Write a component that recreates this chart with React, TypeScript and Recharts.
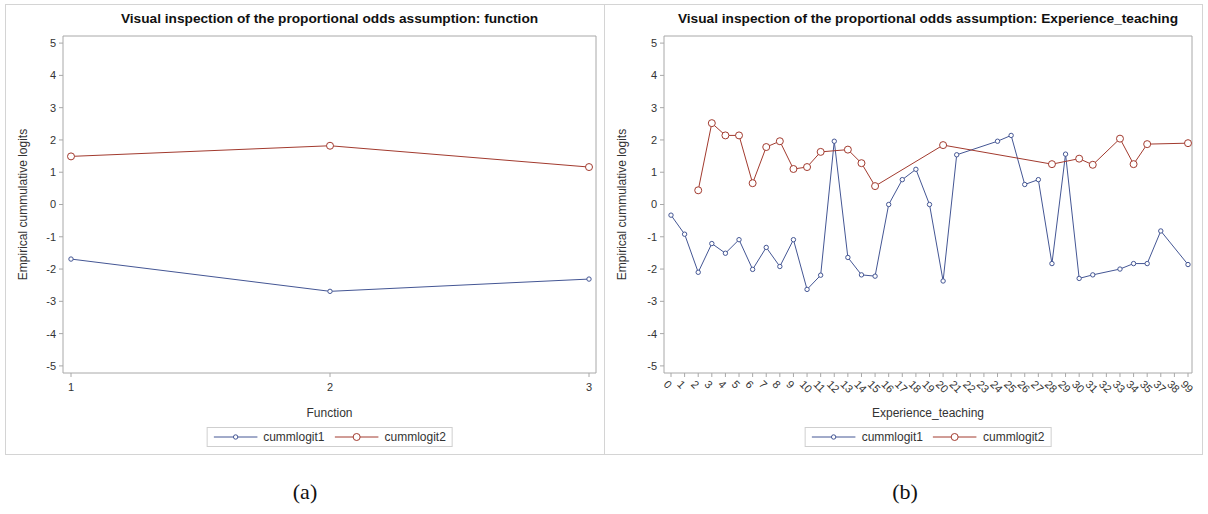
import { LineChart, Line, XAxis, YAxis, CartesianGrid } from "recharts";

// panel (a): Function
const fnCats = [1, 2, 3];
const fnLogit1 = [-1.69, -2.69, -2.31];
const fnLogit2 = [1.49, 1.82, 1.16];

// panel (b): Experience_teaching
const expCats = [
  "0", "1", "2", "3", "4", "5", "6", "7", "8", "9", "10", "11", "12", "13", "14", "15", "16", "17", "18", "19",
  "20", "21", "22", "23", "24", "25", "26", "27", "28", "29", "30", "31", "32", "33", "34", "35", "37", "38", "99",
];
const expLogit1 = [
  -0.33, -0.92, -2.1, -1.21, -1.51, -1.09, -2.01, -1.33, -1.92, -1.09, -2.63, -2.19, 1.96, -1.64, -2.18, -2.22, 0, 0.77, 1.09, 0,
  -2.37, 1.54, null, null, 1.96, 2.14, 0.62, 0.77, -1.83, 1.56, -2.29, -2.18, null, -2.0, -1.83, -1.83, -0.82, null, -1.86,
];
const expLogit2 = [
  null, null, 0.44, 2.52, 2.14, 2.14, 0.66, 1.78, 1.96, 1.1, 1.16, 1.63, null, 1.7, 1.28, 0.57, null, null, null, null,
  1.84, null, null, null, null, null, null, null, 1.25, null, 1.42, 1.23, null, 2.04, 1.25, 1.87, null, null, 1.9,
];

const yTicks = [-5, -4, -3, -2, -1, 0, 1, 2, 3, 4, 5];

const BLUE = "#445694";
const RED = "#A23A2E";
const AXIS = "#a8a8a8";
const TXT = "#333";
const FONT = "'Liberation Sans', Arial, sans-serif";

const fnData = fnCats.map((x, i) => ({ x, logit1: fnLogit1[i], logit2: fnLogit2[i] }));
const expData = expCats.map((label, i) => ({ label, logit1: expLogit1[i], logit2: expLogit2[i] }));

function SlantTick({ x, y, payload }: any) {
  const tx = x - 8;
  const ty = y + 6;
  return (
    <text x={tx} y={ty} transform={`rotate(45 ${tx} ${ty})`} fontSize={11} fill={TXT} fontFamily={FONT}>
      {payload.value}
    </text>
  );
}

function LegendBox({ center }: { center: number }) {
  const item = (color: string, r: number, name: string) => (
    <div style={{ display: "flex", alignItems: "center" }}>
      <svg width={44} height={12} style={{ marginRight: 6 }}>
        <line x1={0} y1={6} x2={44} y2={6} stroke={color} strokeWidth={1} />
        <circle cx={22} cy={6} r={r} stroke={color} fill="#fff" strokeWidth={1} />
      </svg>
      <span>{name}</span>
    </div>
  );
  return (
    <div
      style={{
        position: "absolute",
        left: center,
        top: 427,
        transform: "translateX(-50%)",
        height: 18,
        border: "1px solid #cfcfcf",
        display: "flex",
        alignItems: "center",
        gap: 10,
        padding: "0 6px",
        fontSize: 12,
        color: TXT,
        whiteSpace: "nowrap",
      }}
    >
      {item(BLUE, 2.2, "cummlogit1")}
      {item(RED, 3.5, "cummlogit2")}
    </div>
  );
}

function Panel(props: {
  left: number;
  title: string;
  data: any[];
  xKey: string;
  xLabel: string;
  numeric: boolean;
  yWidth: number;
  right: number;
}) {
  const { left, title, data, xKey, xLabel, numeric, yWidth, right } = props;
  const W = 598;
  const H = 450;
  const plotCenter = left + yWidth + (W - yWidth - right) / 2;
  return (
    <>
      <div
        style={{
          position: "absolute",
          left: plotCenter,
          top: 11,
          transform: "translateX(-50%)",
          fontWeight: "bold",
          fontSize: 13.7,
          color: "#111",
          whiteSpace: "nowrap",
        }}
      >
        {title}
      </div>
      <div style={{ position: "absolute", left, top: 5, width: W, height: H }}>
        <LineChart width={W} height={H} data={data} margin={{ top: 31, right, bottom: 0, left: 0 }}>
          <CartesianGrid
            stroke={AXIS}
            strokeWidth={1}
            horizontalCoordinatesGenerator={({ offset }: any) => [offset.top]}
            verticalCoordinatesGenerator={({ offset }: any) => [offset.left + offset.width]}
          />
          {numeric ? (
            <XAxis
              dataKey={xKey}
              type="number"
              domain={[1, 3]}
              ticks={fnCats}
              padding={{ left: 8, right: 7 }}
              height={82}
              stroke={AXIS}
              tickSize={4}
              tickMargin={6}
              tick={{ fill: TXT, fontSize: 11 }}
              label={{ value: xLabel, position: "insideBottom", offset: 38, fill: TXT, fontSize: 12 }}
            />
          ) : (
            <XAxis
              dataKey={xKey}
              type="category"
              scale="point"
              interval={0}
              padding={{ left: 7, right: 4 }}
              height={82}
              stroke={AXIS}
              tickSize={4}
              tickMargin={2}
              tick={<SlantTick />}
              label={{ value: xLabel, position: "insideBottom", offset: 38, fill: TXT, fontSize: 12 }}
            />
          )}
          <YAxis
            domain={[-5.22, 5.22]}
            ticks={yTicks}
            width={yWidth}
            stroke={AXIS}
            tickSize={4}
            tickMargin={3}
            tick={{ fill: TXT, fontSize: 11 }}
            label={{
              value: "Empirical cummulative logits",
              angle: -90,
              position: "insideLeft",
              offset: 17,
              fill: TXT,
              fontSize: 12,
              style: { textAnchor: "middle" },
            }}
          />
          <Line
            dataKey="logit1"
            stroke={BLUE}
            strokeWidth={1}
            connectNulls
            isAnimationActive={false}
            dot={{ r: 2.2, stroke: BLUE, fill: "#fff", strokeWidth: 1 }}
            activeDot={false}
          />
          <Line
            dataKey="logit2"
            stroke={RED}
            strokeWidth={1}
            connectNulls
            isAnimationActive={false}
            dot={{ r: 3.5, stroke: RED, fill: "#fff", strokeWidth: 1 }}
            activeDot={false}
          />
        </LineChart>
      </div>
      <LegendBox center={plotCenter} />
    </>
  );
}

export default function App() {
  return (
    <div
      style={{
        position: "absolute",
        left: 0,
        top: 0,
        width: 1208,
        height: 514,
        background: "#fff",
        fontFamily: FONT,
        overflow: "hidden",
      }}
    >
      <div
        style={{
          position: "absolute",
          left: 5,
          top: 4,
          width: 1198,
          height: 451,
          boxSizing: "border-box",
          border: "1px solid #d4d4d4",
        }}
      />
      <div style={{ position: "absolute", left: 604, top: 4, width: 1, height: 451, background: "#d4d4d4" }} />
      <Panel
        left={6}
        title="Visual inspection of the proportional odds assumption: function"
        data={fnData}
        xKey="x"
        xLabel="Function"
        numeric
        yWidth={57}
        right={8}
      />
      <Panel
        left={605}
        title="Visual inspection of the proportional odds assumption: Experience_teaching"
        data={expData}
        xKey="label"
        xLabel="Experience_teaching"
        numeric={false}
        yWidth={59}
        right={11}
      />
      <div
        style={{
          position: "absolute",
          left: 305,
          top: 479,
          transform: "translateX(-50%)",
          fontFamily: "'Liberation Serif', 'DejaVu Serif', serif",
          fontSize: 22,
          color: "#111",
        }}
      >
        (a)
      </div>
      <div
        style={{
          position: "absolute",
          left: 905,
          top: 479,
          transform: "translateX(-50%)",
          fontFamily: "'Liberation Serif', 'DejaVu Serif', serif",
          fontSize: 22,
          color: "#111",
        }}
      >
        (b)
      </div>
    </div>
  );
}
